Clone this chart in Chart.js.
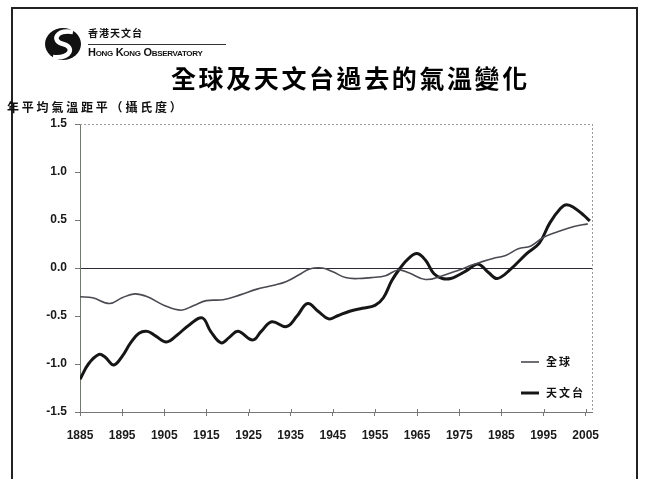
<!DOCTYPE html>
<html>
<head>
<meta charset="utf-8">
<script src="https://cdn.jsdelivr.net/npm/chart.js@4"></script>
<style>
  html, body { margin:0; padding:0; background:#fff; }
  body { width:649px; height:479px; position:relative; overflow:hidden; }
  #c { position:absolute; left:0; top:0; }
  .frame { position:absolute; left:11px; top:7px; width:627px; height:520px; border:2px solid #222; box-sizing:border-box; }
  .logo { position:absolute; left:44px; top:26px; }
  .hko-zh { position:absolute; left:88px; top:27px; font:700 10px "Noto Sans CJK TC", sans-serif; color:#111; letter-spacing:1px; line-height:12px; }
  .hko-rule { position:absolute; left:88px; top:44px; width:138px; height:1px; background:#333; }
  .hko-en { position:absolute; left:88px; top:46px; font:700 11px "Liberation Sans Narrow", "Liberation Sans", sans-serif; font-variant:small-caps; color:#111; letter-spacing:-0.3px; line-height:12px; white-space:nowrap; }
  .title { position:absolute; left:171px; top:61px; font:700 25px "Noto Sans CJK TC", sans-serif; color:#000; letter-spacing:2.6px; line-height:32px; white-space:nowrap; }
  .ytitle { position:absolute; left:7px; top:99px; font:700 12px "Noto Sans CJK TC", sans-serif; color:#111; letter-spacing:2.8px; line-height:16px; white-space:nowrap; }
</style>
</head>
<body>
<canvas id="c" width="649" height="479"></canvas>
<div class="frame"></div>
<svg class="logo" width="40" height="36" viewBox="0 0 40 36">
  <ellipse cx="19" cy="18" rx="18" ry="16" fill="#111"/>
  <path d="M 29 6 C 12 3, 7 15, 19 18 C 31 21, 27 33, 9 31" stroke="#fff" stroke-width="4.5" fill="none"/>
</svg>
<div class="hko-zh">香港天文台</div>
<div class="hko-rule"></div>
<div class="hko-en">Hong Kong Observatory</div>
<div class="title">全球及天文台過去的氣溫變化</div>
<div class="ytitle">年平均氣溫距平（攝氏度）</div>
<script>
// ---- data ----
const seriesNames = ['全球', '天文台'];
const xTickYears = [1885, 1895, 1905, 1915, 1925, 1935, 1945, 1955, 1965, 1975, 1985, 1995, 2005];
const yTickValues = [-1.5, -1.0, -0.5, 0.0, 0.5, 1.0, 1.5];
const yTickLabels = ['-1.5', '-1.0', '-0.5', '0.0', '0.5', '1.0', '1.5'];

const globalYears = [1885, 1888, 1892, 1895, 1898, 1901, 1905, 1909, 1912, 1915, 1919, 1923, 1927, 1931, 1934, 1937, 1939.5, 1942.5, 1945, 1948, 1951, 1954, 1957.5, 1960.5, 1963, 1967, 1971, 1975, 1978, 1980, 1983, 1986, 1989, 1992, 1995, 1998.5, 2002, 2005.5];
const globalValues = [-0.30, -0.31, -0.37, -0.31, -0.27, -0.30, -0.39, -0.44, -0.39, -0.34, -0.33, -0.28, -0.22, -0.18, -0.14, -0.07, -0.01, 0.00, -0.04, -0.10, -0.11, -0.10, -0.08, -0.02, -0.05, -0.12, -0.08, -0.02, 0.03, 0.06, 0.10, 0.13, 0.20, 0.23, 0.32, 0.38, 0.43, 0.46];

const hkoYears = [1885, 1887, 1889.5, 1891, 1893, 1895, 1897, 1899, 1901, 1903, 1905.5, 1908, 1911, 1914, 1916, 1918.5, 1920.5, 1922.5, 1926, 1928, 1930.5, 1934, 1936.5, 1939, 1941.5, 1944, 1946, 1949, 1952, 1955, 1957, 1959, 1961, 1963, 1965, 1967, 1969, 1971, 1973, 1975, 1977, 1979.5, 1982, 1984, 1987, 1991, 1994, 1996.5, 1999, 2000.5, 2002.5, 2004.5, 2006];
const hkoValues = [-1.16, -1.00, -0.90, -0.93, -1.01, -0.92, -0.78, -0.68, -0.66, -0.71, -0.77, -0.70, -0.59, -0.52, -0.66, -0.78, -0.72, -0.66, -0.75, -0.66, -0.56, -0.61, -0.50, -0.37, -0.45, -0.53, -0.50, -0.45, -0.42, -0.39, -0.31, -0.13, 0.00, 0.10, 0.15, 0.08, -0.06, -0.11, -0.11, -0.07, -0.02, 0.04, -0.05, -0.11, -0.02, 0.15, 0.26, 0.47, 0.62, 0.66, 0.62, 0.55, 0.49];

const toPoints = (xs, ys) => xs.map((x, i) => ({ x: x, y: ys[i] }));

const tickFont = { family: '"Liberation Sans", Arial, sans-serif', size: 12, weight: 'bold' };

const framePlugin = {
  id: 'framePlugin',
  afterDraw(chart) {
    const { ctx, chartArea: a, scales } = chart;
    ctx.save();
    // dotted top and right borders of plot area
    ctx.strokeStyle = '#9a9a9a';
    ctx.lineWidth = 1;
    ctx.setLineDash([2, 2]);
    ctx.beginPath();
    ctx.moveTo(a.left, a.top + 0.5); ctx.lineTo(a.right, a.top + 0.5);
    ctx.moveTo(a.right + 0.5, a.top); ctx.lineTo(a.right + 0.5, a.bottom);
    ctx.stroke();
    ctx.setLineDash([]);
    // small inner tick marks on x axis
    ctx.strokeStyle = '#777';
    ctx.beginPath();
    xTickYears.forEach(v => {
      const px = Math.round(scales.x.getPixelForValue(v)) + 0.5;
      ctx.moveTo(px, a.bottom); ctx.lineTo(px, a.bottom - 3);
    });
    ctx.stroke();
    // legend
    const ds = chart.data.datasets;
    const lx = 521, ly = [362, 393];
    ds.forEach((d, i) => {
      ctx.strokeStyle = d.borderColor;
      ctx.lineWidth = d.borderWidth;
      ctx.beginPath();
      ctx.moveTo(lx, ly[i]); ctx.lineTo(lx + 18, ly[i]);
      ctx.stroke();
      ctx.fillStyle = '#111';
      ctx.font = 'bold 11px "Noto Sans CJK TC", sans-serif';
      ctx.textBaseline = 'middle';
      let tx = lx + 25;
      for (const ch of d.label) { ctx.fillText(ch, tx, ly[i]); tx += 13; }
    });
    ctx.restore();
  }
};

new Chart(document.getElementById('c'), {
  type: 'line',
  data: {
    datasets: [
      { label: seriesNames[0], data: toPoints(globalYears, globalValues), borderColor: '#4a4a52', borderWidth: 1.6, pointRadius: 0, tension: 0.4, fill: false },
      { label: seriesNames[1], data: toPoints(hkoYears, hkoValues), borderColor: '#161616', borderWidth: 3, pointRadius: 0, tension: 0.4, fill: false }
    ]
  },
  options: {
    responsive: false,
    animation: false,
    devicePixelRatio: 1,
    layout: { padding: { left: 0, top: 124, right: 57, bottom: 0 } },
    plugins: { legend: { display: false }, tooltip: { enabled: false }, title: { display: false } },
    scales: {
      x: {
        type: 'linear', min: 1885, max: 2006.5,
        afterBuildTicks: s => { s.ticks = xTickYears.map(v => ({ value: v })); },
        afterFit: s => { s.height = 67; },
        ticks: { font: tickFont, color: '#1a1a1a', padding: 12, maxRotation: 0, autoSkip: false, callback: v => String(v) },
        grid: { drawOnChartArea: false, tickLength: 4, color: '#777' },
        border: { color: '#777', width: 1 }
      },
      y: {
        type: 'linear', min: -1.5, max: 1.5,
        afterBuildTicks: s => { s.ticks = yTickValues.map(v => ({ value: v })); },
        afterFit: s => { s.width = 80; },
        ticks: { font: tickFont, color: '#1a1a1a', padding: 8, callback: (v) => yTickLabels[yTickValues.indexOf(v)] },
        grid: {
          drawOnChartArea: true, tickLength: 5,
          color: c => (c.tick && c.tick.value === 0) ? '#2a2a3a' : 'rgba(0,0,0,0)',
          tickColor: '#777', lineWidth: 1
        },
        border: { color: '#6f7a6a', width: 1 }
      }
    }
  },
  plugins: [framePlugin]
});
</script>
</body>
</html>
